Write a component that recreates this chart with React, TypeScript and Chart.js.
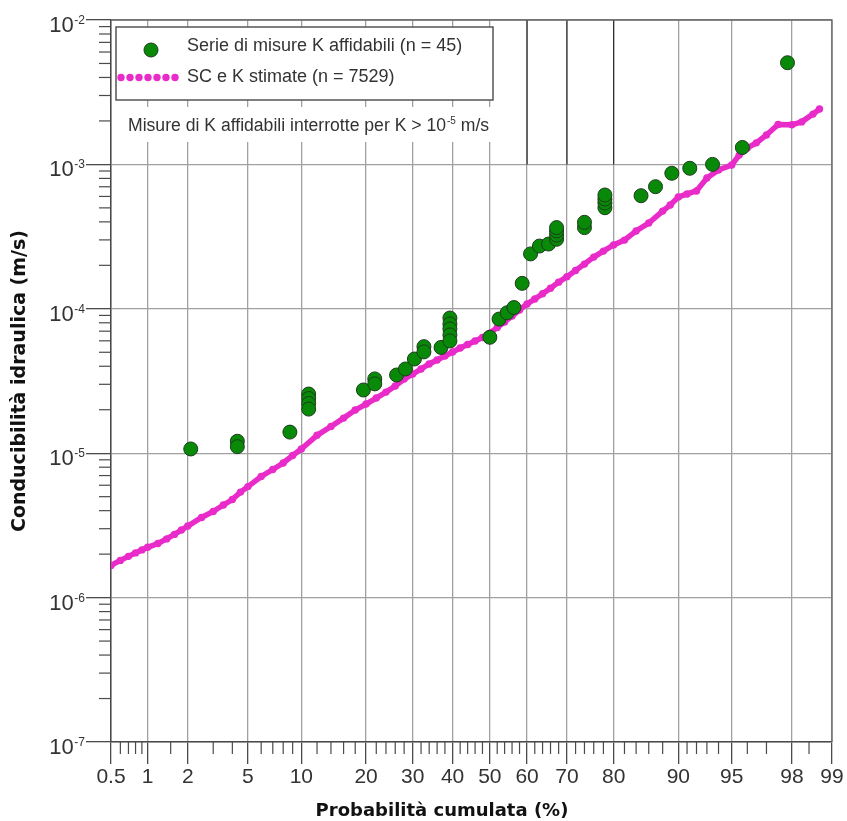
import React, { useEffect, useRef } from "react";
import { Chart, registerables } from "chart.js";

Chart.register(...registerables);

// ---------- data (cumulative probability in %, hydraulic conductivity in m/s) ----------
const MEASURED_P = [2.1, 4.3, 4.3, 8.7, 10.9, 10.9, 10.9, 10.9, 19.5, 21.7, 21.7, 26.3, 28.3, 30.4, 32.7, 32.7, 37.0, 39.3, 39.3, 39.3, 39.3, 39.3, 50.0, 52.5, 54.7, 56.5, 58.7, 60.9, 63.2, 65.5, 67.5, 67.5, 67.5, 67.5, 74.0, 74.0, 78.3, 78.3, 78.3, 78.3, 84.8, 87.0, 89.2, 91.3, 93.5, 95.7, 97.85];
const MEASURED_K = [1.07e-5, 1.21e-5, 1.11e-5, 1.40e-5, 2.57e-5, 2.39e-5, 2.21e-5, 2.02e-5, 2.74e-5, 3.27e-5, 3.02e-5, 3.48e-5, 3.83e-5, 4.49e-5, 5.47e-5, 5.03e-5, 5.40e-5, 8.63e-5, 7.85e-5, 7.25e-5, 6.59e-5, 5.99e-5, 6.35e-5, 8.49e-5, 9.39e-5, 1.02e-4, 1.50e-4, 2.40e-4, 2.72e-4, 2.81e-4, 3.03e-4, 3.24e-4, 3.46e-4, 3.65e-4, 3.65e-4, 3.97e-4, 5.01e-4, 5.41e-4, 5.76e-4, 6.14e-4, 6.07e-4, 7.01e-4, 8.68e-4, 9.40e-4, 1.00e-3, 1.31e-3, 5.06e-3];

const ESTIMATED_P = [0.5, 0.6, 0.7, 0.8, 0.9, 1, 1.2, 1.4, 1.6, 1.8, 2, 2.5, 3, 3.5, 4, 4.5, 5, 6, 7, 8, 9, 10, 12, 14, 16, 18, 20, 22, 24, 26, 28, 30, 32, 34, 36, 38, 40, 42, 44, 46, 48, 50, 52, 54, 56, 58, 60, 62, 64, 66, 68, 70, 72, 74, 76, 78, 80, 82, 84, 86, 88, 89, 90, 91, 92, 93, 94, 95, 95.5, 96, 96.5, 97, 97.5, 98, 98.3, 98.6, 98.75];
const ESTIMATED_K = [1.67e-6, 1.81e-6, 1.93e-6, 2.04e-6, 2.14e-6, 2.23e-6, 2.37e-6, 2.55e-6, 2.74e-6, 2.94e-6, 3.13e-6, 3.59e-6, 3.95e-6, 4.38e-6, 4.78e-6, 5.38e-6, 5.87e-6, 6.90e-6, 7.71e-6, 8.55e-6, 9.64e-6, 1.07e-5, 1.33e-5, 1.53e-5, 1.75e-5, 1.99e-5, 2.19e-5, 2.41e-5, 2.65e-5, 2.92e-5, 3.26e-5, 3.53e-5, 3.83e-5, 4.15e-5, 4.42e-5, 4.71e-5, 5.02e-5, 5.35e-5, 5.66e-5, 5.99e-5, 6.33e-5, 6.79e-5, 7.41e-5, 8.11e-5, 8.91e-5, 9.81e-5, 1.08e-4, 1.17e-4, 1.27e-4, 1.39e-4, 1.53e-4, 1.67e-4, 1.84e-4, 2.04e-4, 2.28e-4, 2.51e-4, 2.77e-4, 2.99e-4, 3.46e-4, 3.93e-4, 4.75e-4, 5.23e-4, 5.94e-4, 6.24e-4, 6.55e-4, 8.05e-4, 9.15e-4, 9.91e-4, 1.16e-3, 1.30e-3, 1.41e-3, 1.60e-3, 1.89e-3, 1.88e-3, 1.97e-3, 2.23e-3, 2.42e-3];

const X_MAJOR_TICKS = [0.5, 1, 2, 5, 10, 20, 30, 40, 50, 60, 70, 80, 90, 95, 98, 99];
const X_TICK_LABELS = ["0.5", "1", "2", "5", "10", "20", "30", "40", "50", "60", "70", "80", "90", "95", "98", "99"];
const X_MINOR_TICKS = [0.6, 0.7, 0.8, 0.9, 1.5, 3, 4, 6, 7, 8, 9, 12, 14, 16, 18, 22, 24, 26, 28, 32, 34, 36, 38, 42, 44, 46, 48, 52, 54, 56, 58, 62, 64, 66, 68, 72, 74, 76, 78, 82, 84, 86, 88, 91, 92, 93, 94, 96, 97, 98.5];
const Y_DECADES = [1e-7, 1e-6, 1e-5, 1e-4, 1e-3, 1e-2];
const Y_EXPONENTS = ["-7", "-6", "-5", "-4", "-3", "-2"];
const DARK_SEGMENT_P = [60, 70, 80];

const LEGEND_MEASURED = "Serie di misure K affidabili (n = 45)";
const LEGEND_ESTIMATED = "SC e K stimate (n = 7529)";
const NOTE_TEXT = "Misure di K affidabili interrotte per K > 10";
const NOTE_EXP = "-5";
const NOTE_UNIT = " m/s";
const X_TITLE = "Probabilità cumulata (%)";
const Y_TITLE = "Conducibilità idraulica (m/s)";

// ---------- styles ----------
const GREEN = "#088a08";
const GREEN_BORDER = "#1d3b1d";
const MAGENTA = "#e92bc9";
const GRID = "#a0a0a0";
const AXIS = "#4a4a4a";
const TXT = "#333333";
const TICK_FONT = '"Liberation Sans", Arial, sans-serif';
const TITLE_FONT = '"DejaVu Sans", sans-serif';

// inverse standard normal CDF (Acklam); input in percent
function probit(pct: number): number {
  const p = pct / 100;
  const a = [-3.969683028665376e1, 2.209460984245205e2, -2.759285104469687e2, 1.38357751867269e2, -3.066479806614716e1, 2.506628277459239];
  const b = [-5.447609879822406e1, 1.615858368580409e2, -1.556989798598866e2, 6.680131188771972e1, -1.328068155288572e1];
  const c = [-7.784894002430293e-3, -3.223964580411365e-1, -2.400758277161838, -2.549732539343734, 4.374664141464968, 2.938163982698783];
  const d = [7.784695709041462e-3, 3.224671290700398e-1, 2.445134137142996, 3.754408661907416];
  const plow = 0.02425;
  if (p < plow) {
    const q = Math.sqrt(-2 * Math.log(p));
    return (((((c[0] * q + c[1]) * q + c[2]) * q + c[3]) * q + c[4]) * q + c[5]) / ((((d[0] * q + d[1]) * q + d[2]) * q + d[3]) * q + 1);
  }
  if (p <= 1 - plow) {
    const q = p - 0.5;
    const r = q * q;
    return ((((((a[0] * r + a[1]) * r + a[2]) * r + a[3]) * r + a[4]) * r + a[5]) * q) / (((((b[0] * r + b[1]) * r + b[2]) * r + b[3]) * r + b[4]) * r + 1);
  }
  const q = Math.sqrt(-2 * Math.log(1 - p));
  return -(((((c[0] * q + c[1]) * q + c[2]) * q + c[3]) * q + c[4]) * q + c[5]) / ((((d[0] * q + d[1]) * q + d[2]) * q + d[3]) * q + 1);
}

const decorations = {
  id: "decorations",
  beforeDatasetsDraw(chart: any) {
    const { ctx, chartArea: ca, scales } = chart;
    const xs = scales.x;
    const ys = scales.y;
    ctx.save();
    // darker vertical segments in the upper band
    ctx.strokeStyle = "#2e2e2e";
    ctx.lineWidth = 1.2;
    const yEnd = ys.getPixelForValue(1e-3);
    for (const p of DARK_SEGMENT_P) {
      const px = xs.getPixelForValue(probit(p));
      ctx.beginPath();
      ctx.moveTo(px, ca.top);
      ctx.lineTo(px, yEnd);
      ctx.stroke();
    }
    // note background
    ctx.fillStyle = "#ffffff";
    ctx.fillRect(ca.left + 7, ca.top + 87, 384, 35);
    // legend box
    const lx = ca.left + 5, ly = ca.top + 7, lw = 377, lh = 73;
    ctx.fillRect(lx, ly, lw, lh);
    ctx.strokeStyle = "#555";
    ctx.lineWidth = 1.5;
    ctx.strokeRect(lx, ly, lw, lh);
    // legend markers
    ctx.beginPath();
    ctx.arc(ca.left + 40, ca.top + 30, 7, 0, Math.PI * 2);
    ctx.fillStyle = GREEN;
    ctx.fill();
    ctx.strokeStyle = GREEN_BORDER;
    ctx.lineWidth = 1;
    ctx.stroke();
    ctx.fillStyle = MAGENTA;
    for (let i = 0; i < 7; i++) {
      ctx.beginPath();
      ctx.arc(ca.left + 10 + i * 9, ca.top + 57.5, 3.7, 0, Math.PI * 2);
      ctx.fill();
    }
    // legend text
    ctx.fillStyle = TXT;
    ctx.font = `18px ${TICK_FONT}`;
    ctx.textAlign = "left";
    ctx.textBaseline = "alphabetic";
    ctx.fillText(LEGEND_MEASURED, ca.left + 76, ca.top + 31);
    ctx.fillText(LEGEND_ESTIMATED, ca.left + 76, ca.top + 62);
    // note text
    const nx = ca.left + 17, ny = ca.top + 111;
    ctx.font = `17.6px ${TICK_FONT}`;
    ctx.fillText(NOTE_TEXT, nx, ny);
    let w = ctx.measureText(NOTE_TEXT).width;
    ctx.font = `10px ${TICK_FONT}`;
    ctx.fillText(NOTE_EXP, nx + w + 1, ny - 7);
    w += ctx.measureText(NOTE_EXP).width + 1;
    ctx.font = `17.6px ${TICK_FONT}`;
    ctx.fillText(NOTE_UNIT, nx + w, ny);
    ctx.restore();
  },
  afterDraw(chart: any) {
    const { ctx, chartArea: ca, scales } = chart;
    const xs = scales.x;
    const ys = scales.y;
    ctx.save();
    // top and right frame
    ctx.strokeStyle = "#666";
    ctx.lineWidth = 1.3;
    ctx.beginPath();
    ctx.moveTo(ca.left, ca.top);
    ctx.lineTo(ca.right, ca.top);
    ctx.lineTo(ca.right, ca.bottom);
    ctx.stroke();
    // minor ticks
    ctx.strokeStyle = AXIS;
    ctx.lineWidth = 1.2;
    for (const p of X_MINOR_TICKS) {
      const px = xs.getPixelForValue(probit(p));
      ctx.beginPath();
      ctx.moveTo(px, ca.bottom);
      ctx.lineTo(px, ca.bottom + 12);
      ctx.stroke();
    }
    for (let k = 0; k < Y_DECADES.length - 1; k++) {
      for (let m = 2; m <= 9; m++) {
        const py = ys.getPixelForValue(Y_DECADES[k] * m);
        ctx.beginPath();
        ctx.moveTo(ca.left - 12, py);
        ctx.lineTo(ca.left, py);
        ctx.stroke();
      }
    }
    // y tick labels with superscript exponents
    ctx.fillStyle = TXT;
    ctx.textAlign = "right";
    ctx.textBaseline = "alphabetic";
    const rx = ca.left - 26;
    Y_DECADES.forEach((v, i) => {
      const py = ys.getPixelForValue(v);
      ctx.font = `12px ${TICK_FONT}`;
      const sw = ctx.measureText(Y_EXPONENTS[i]).width;
      ctx.fillText(Y_EXPONENTS[i], rx, py + 4);
      ctx.font = `22px ${TICK_FONT}`;
      ctx.fillText("10", rx - sw - 0.5, py + 12);
    });
    // x axis title
    ctx.fillStyle = "#111";
    ctx.font = `bold 18px ${TITLE_FONT}`;
    ctx.textAlign = "center";
    ctx.fillText(X_TITLE, 442, 816);
    ctx.restore();
  },
};

export default function App() {
  const ref = useRef<HTMLCanvasElement>(null);
  useEffect(() => {
    const canvas = ref.current;
    if (!canvas) return;
    const measured = MEASURED_P.map((p, i) => ({ x: probit(p), y: MEASURED_K[i] }));
    const estimated = ESTIMATED_P.map((p, i) => ({ x: probit(p), y: ESTIMATED_K[i] }));
    const chart = new Chart(canvas, {
      type: "scatter",
      data: {
        datasets: [
          {
            label: LEGEND_MEASURED,
            data: measured,
            pointRadius: 7,
            pointHoverRadius: 7,
            backgroundColor: GREEN,
            borderColor: GREEN_BORDER,
            borderWidth: 1,
          },
          {
            label: LEGEND_ESTIMATED,
            data: estimated,
            showLine: true,
            borderColor: MAGENTA,
            backgroundColor: MAGENTA,
            borderWidth: 5.5,
            pointRadius: 3.7,
            pointBorderWidth: 0,
            tension: 0,
          },
        ],
      },
      options: {
        responsive: false,
        animation: false,
        layout: { padding: { left: 0, top: 20, right: 15, bottom: 0 } },
        plugins: { legend: { display: false }, tooltip: { enabled: false } },
        scales: {
          x: {
            type: "linear",
            min: probit(0.5),
            max: probit(99),
            afterBuildTicks: (scale: any) => {
              scale.ticks = X_MAJOR_TICKS.map((p) => ({ value: probit(p) }));
            },
            afterFit: (scale: any) => {
              scale.height = 79;
            },
            ticks: {
              autoSkip: false,
              maxRotation: 0,
              padding: 1,
              color: TXT,
              font: { family: TICK_FONT, size: 21 },
              callback: (_v: any, i: number) => X_TICK_LABELS[i],
            },
            grid: { color: GRID, lineWidth: 1.3, tickColor: AXIS, tickLength: 22, drawTicks: true },
            border: { display: true, color: AXIS, width: 1.5 },
          },
          y: {
            type: "logarithmic",
            min: 1e-7,
            max: 1e-2,
            afterBuildTicks: (scale: any) => {
              scale.ticks = Y_DECADES.map((v) => ({ value: v, major: true }));
            },
            afterFit: (scale: any) => {
              scale.width = 111;
            },
            ticks: { display: false },
            grid: { color: GRID, lineWidth: 1.3, tickColor: AXIS, tickLength: 25, drawTicks: true },
            border: { display: true, color: AXIS, width: 1.5 },
            title: {
              display: true,
              text: Y_TITLE,
              color: "#111",
              font: { family: TITLE_FONT, size: 19, weight: "bold" },
              padding: { top: 9, bottom: 0 },
            },
          },
        },
      },
      plugins: [decorations],
    } as any);
    return () => chart.destroy();
  }, []);
  return (
    <div style={{ position: "fixed", left: 0, top: 0, width: 847, height: 821, background: "#fff" }}>
      <canvas ref={ref} width={847} height={821} style={{ width: 847, height: 821, display: "block" }} />
    </div>
  );
}
